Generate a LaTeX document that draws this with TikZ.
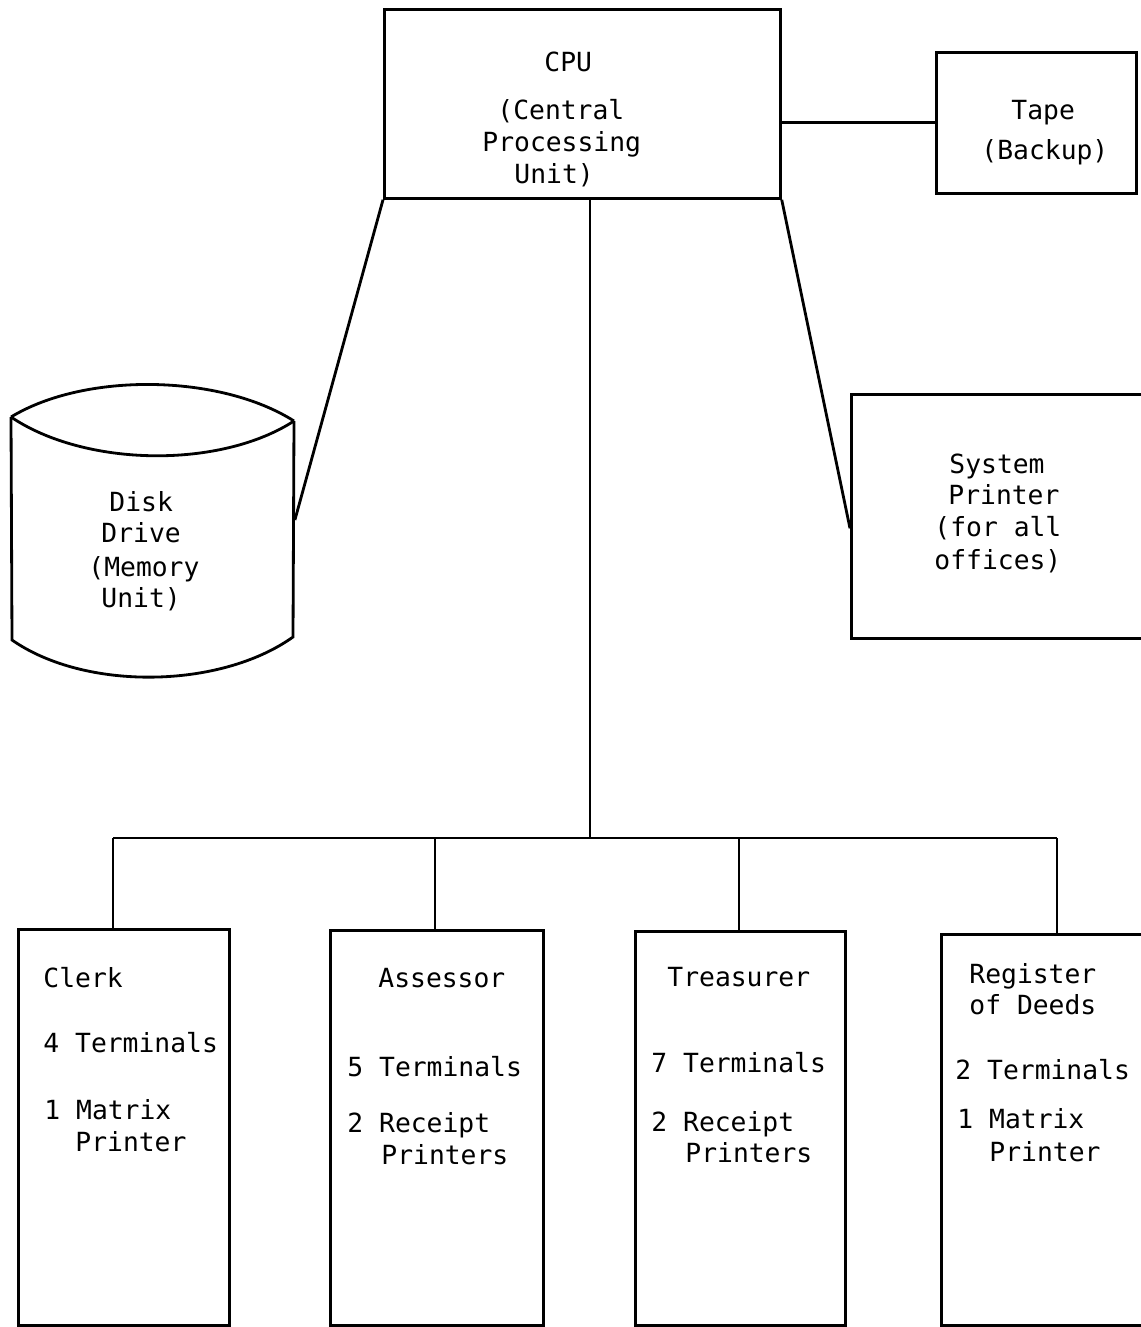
\documentclass[tikz,border=0pt]{standalone}
\usepackage{fontspec}
\setmonofont{DejaVu Sans Mono}

\begin{document}
\begin{tikzpicture}[x=0.02cm, y=-0.02cm, line width=1.6pt,
    unitbox/.style={rectangle, draw, inner sep=0pt, anchor=north west},
    lbl/.style={font=\ttfamily\fontsize{15}{18}\selectfont, inner sep=0pt, anchor=west, text height=10.9pt, text depth=0pt}]
    \useasboundingbox (0,0) rectangle (1141,1327);
    \clip (0,0) rectangle (1141,1327);

    % central unit and peripherals
    \node[unitbox, minimum width=7.92cm, minimum height=3.78cm] (cpu) at (383,8) {};
    \node[unitbox, minimum width=4cm, minimum height=2.82cm] (tape) at (935,51) {};
    \node[unitbox, minimum width=6cm, minimum height=4.88cm] (printer) at (850,393) {};
    \node[inner sep=0pt, minimum width=5.66cm, minimum height=4.42cm] (disk) at (152,530) {};

    % disk drive outline
    \draw (11,417) .. controls (85,372) and (220,374) .. (294,421);
    \draw (11,417) .. controls (85,467) and (220,469) .. (294,421);
    \draw (11,417) -- (12,640) .. controls (85,691) and (220,689) .. (293,637) -- (294,421);

    % office boxes
    \node[unitbox, minimum width=4.22cm, minimum height=7.92cm] (clerk) at (17,928) {};
    \node[unitbox, minimum width=4.26cm, minimum height=7.9cm] (assessor) at (329,929) {};
    \node[unitbox, minimum width=4.2cm, minimum height=7.88cm] (treasurer) at (634,930) {};
    \node[unitbox, minimum width=4.2cm, minimum height=7.82cm] (register) at (940,933) {};

    % texts
    \node[lbl] (cpu-1) at (543,62) {CPU};
    \node[lbl] (cpu-2) at (496,110) {(Central};
    \node[lbl] (cpu-3) at (481,142) {Processing};
    \node[lbl] (cpu-4) at (513,174) {Unit)};

    \node[lbl] (tape-1) at (1010,110) {Tape};
    \node[lbl] (tape-2) at (980,150) {(Backup)};

    \node[lbl] (disk-1) at (108,502) {Disk};
    \node[lbl] (disk-2) at (100,533) {Drive};
    \node[lbl] (disk-3) at (87,567) {(Memory};
    \node[lbl] (disk-4) at (100,598) {Unit)};

    \node[lbl] (prn-1) at (948,464) {System};
    \node[lbl] (prn-2) at (947,495) {Printer};
    \node[lbl] (prn-3) at (933,527) {(for all};
    \node[lbl] (prn-4) at (933,560) {offices)};

    \node[lbl] (clerk-1) at (42,978) {Clerk};
    \node[lbl] (clerk-2) at (42,1043) {4 Terminals};
    \node[lbl] (clerk-3) at (43,1110) {1 Matrix};
    \node[lbl] (clerk-4) at (74,1142) {Printer};

    \node[lbl] (assr-1) at (377,978) {Assessor};
    \node[lbl] (assr-2) at (346,1067) {5 Terminals};
    \node[lbl] (assr-3) at (346,1123) {2 Receipt};
    \node[lbl] (assr-4) at (380,1155) {Printers};

    \node[lbl] (treas-1) at (666,977) {Treasurer};
    \node[lbl] (treas-2) at (650,1063) {7 Terminals};
    \node[lbl] (treas-3) at (650,1122) {2 Receipt};
    \node[lbl] (treas-4) at (684,1153) {Printers};

    \node[lbl] (reg-1) at (968,974) {Register};
    \node[lbl] (reg-2) at (968,1005) {of Deeds};
    \node[lbl] (reg-3) at (954,1070) {2 Terminals};
    \node[lbl] (reg-4) at (956,1119) {1 Matrix};
    \node[lbl] (reg-5) at (988,1152) {Printer};

    % connections
    \coordinate (hub) at (590,838);
    \coordinate (tap1) at (113,838);
    \coordinate (tap2) at (435,838);
    \coordinate (tap3) at (739,838);
    \coordinate (tap4) at (1057,838);

    \draw (tape.west) -- (tape.west -| cpu.east);
    \draw (cpu.south west) -- ([yshift=0.2cm]disk.east);
    \draw (cpu.south east) -- ([yshift=-0.24cm]printer.west);
    \draw (cpu.south -| hub) -- (hub);
    \draw (tap1) -- (tap4);
    \draw (tap1) -- (tap1 |- clerk.north);
    \draw (tap2) -- (tap2 |- assessor.north);
    \draw (tap3) -- (tap3 |- treasurer.north);
    \draw (tap4) -- (tap4 |- register.north);
\end{tikzpicture}
\end{document}
